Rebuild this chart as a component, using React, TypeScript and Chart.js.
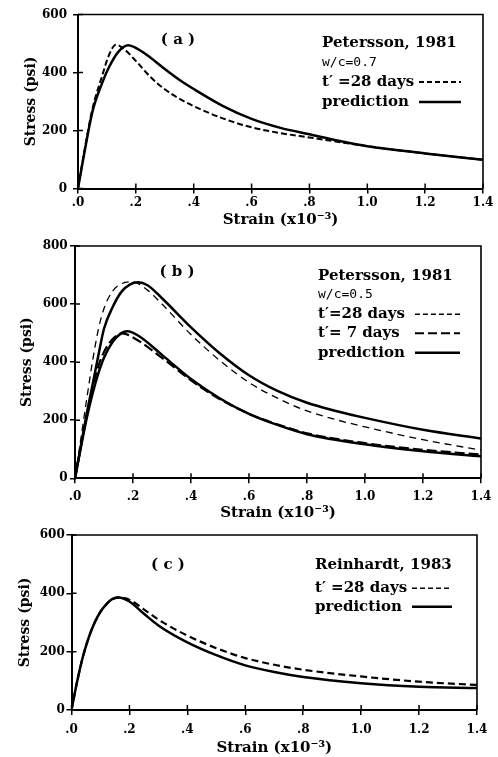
import React, { useEffect, useRef } from "react";
import { Chart, registerables } from "chart.js";

Chart.register(...registerables);

// ---------- tick labels ----------
const xTickLabels = [".0", ".2", ".4", ".6", ".8", "1.0", "1.2", "1.4"];
const xAxisTitle = "Strain (x10\u207B\u00B3)";
const yAxisTitle = "Stress (psi)";

// ---------- panel (a) Petersson 1981, w/c = 0.7 ----------
const strainA_test28 = [0, 0.02, 0.05, 0.084, 0.107, 0.131, 0.16, 0.2, 0.25, 0.3, 0.35, 0.4, 0.5, 0.6, 0.7, 0.8, 1.0, 1.2, 1.4];
const stressA_test28 = [0, 118, 275, 390, 460, 496, 480, 440, 385, 342, 310, 284, 242, 211, 191, 176, 146, 121, 99];
const strainA_pred = [0, 0.02, 0.05, 0.084, 0.107, 0.14, 0.174, 0.2, 0.25, 0.3, 0.35, 0.4, 0.5, 0.6, 0.7, 0.8, 0.9, 1.0, 1.2, 1.4];
const stressA_pred = [0, 112, 265, 365, 418, 472, 494, 485, 452, 412, 375, 343, 285, 240, 209, 187, 165, 146, 121, 99];

// ---------- panel (b) Petersson 1981, w/c = 0.5 ----------
const strainB_test28 = [0, 0.02, 0.04, 0.06, 0.08, 0.1, 0.13, 0.16, 0.197, 0.25, 0.3, 0.4, 0.5, 0.6, 0.7, 0.8, 0.9, 1.0, 1.2, 1.4];
const stressB_test28 = [0, 135, 270, 400, 510, 585, 645, 670, 677, 648, 600, 495, 405, 330, 275, 232, 202, 177, 133, 97];
const strainB_pred28 = [0, 0.02, 0.04, 0.06, 0.08, 0.1, 0.13, 0.16, 0.19, 0.217, 0.25, 0.3, 0.4, 0.5, 0.6, 0.7, 0.8, 0.9, 1.0, 1.2, 1.4];
const stressB_pred28 = [0, 110, 220, 320, 420, 515, 590, 642, 668, 675, 665, 620, 520, 430, 355, 300, 260, 232, 208, 167, 137];
const strainB_test7 = [0, 0.02, 0.04, 0.06, 0.08, 0.1, 0.13, 0.163, 0.2, 0.3, 0.4, 0.5, 0.6, 0.7, 0.8, 1.0, 1.2, 1.4];
const stressB_test7 = [0, 110, 215, 310, 385, 435, 480, 499, 485, 415, 337, 272, 222, 185, 155, 121, 98, 82];
const strainB_pred7 = [0, 0.02, 0.04, 0.06, 0.08, 0.1, 0.13, 0.16, 0.18, 0.22, 0.3, 0.4, 0.5, 0.6, 0.7, 0.8, 1.0, 1.2, 1.4];
const stressB_pred7 = [0, 105, 205, 290, 360, 415, 470, 500, 506, 490, 425, 342, 275, 222, 183, 152, 117, 93, 76];

// ---------- panel (c) Reinhardt 1983 ----------
const strainC_test28 = [0, 0.02, 0.04, 0.06, 0.08, 0.1, 0.12, 0.14, 0.163, 0.2, 0.25, 0.3, 0.4, 0.5, 0.6, 0.7, 0.8, 1.0, 1.2, 1.4];
const stressC_test28 = [0, 100, 185, 250, 300, 337, 362, 380, 386, 378, 345, 310, 255, 212, 178, 155, 138, 115, 97, 86];
const strainC_pred = [0, 0.02, 0.04, 0.06, 0.08, 0.1, 0.12, 0.14, 0.163, 0.2, 0.25, 0.3, 0.4, 0.5, 0.6, 0.7, 0.8, 1.0, 1.2, 1.4];
const stressC_pred = [0, 100, 185, 250, 300, 337, 362, 380, 386, 372, 330, 290, 232, 188, 153, 130, 113, 92, 80, 75];

// ---------- annotation texts ----------
const legendA = ["Petersson, 1981", "w/c=0.7", "t\u2032 =28 days", "prediction"];
const legendB = ["Petersson, 1981", "w/c=0.5", "t\u2032=28 days", "t\u2032= 7 days", "prediction"];
const legendC = ["Reinhardt, 1983", "t\u2032 =28 days", "prediction"];
const panelLabels = ["( a )", "( b )", "( c )"];

const SERIF = '"DejaVu Serif", "Liberation Serif", serif';
const MONO = '"DejaVu Sans Mono", monospace';

const toPts = (xs: number[], ys: number[]) => xs.map((x, i) => ({ x, y: ys[i] }));

type Sample = { dash: number[]; width: number };
type LegendRow = { text: string; mono?: boolean; sample?: Sample };

const SOLID: Sample = { dash: [], width: 2.5 };

const panels = [
  {
    top: 0, height: 240,
    chartLeft: 78, chartRight: 483, chartTop: 14.5, chartBottom: 188.5,
    yMax: 600,
    xTickPad: 2.3, yTickPad: 6, xTitlePad: 11.2, yTitlePad: 22.6,
    label: { text: panelLabels[0], x: 178, y: 40 },
    legendX: 322, legendYs: [43.5, 63, 82, 102], sampleX: [419, 461],
    legend: [
      { text: legendA[0] },
      { text: legendA[1], mono: true },
      { text: legendA[2], sample: { dash: [5, 3], width: 1.8 } },
      { text: legendA[3], sample: SOLID },
    ] as LegendRow[],
    series: [
      { data: toPts(strainA_test28, stressA_test28), dash: [6, 3], width: 2 },
      { data: toPts(strainA_pred, stressA_pred), dash: [], width: 2.5 },
    ],
  },
  {
    top: 232, height: 293,
    chartLeft: 75, chartRight: 481, chartTop: 246, chartBottom: 478.3,
    yMax: 800,
    xTickPad: 6.2, yTickPad: 2.3, xTitlePad: 3.2, yTitlePad: 18.6,
    label: { text: panelLabels[1], x: 177, y: 272 },
    legendX: 318, legendYs: [276, 295, 314.3, 333.3, 352.7], sampleX: [415, 460],
    legend: [
      { text: legendB[0] },
      { text: legendB[1], mono: true },
      { text: legendB[2], sample: { dash: [5, 3], width: 1.4 } },
      { text: legendB[3], sample: { dash: [9, 4], width: 2 } },
      { text: legendB[4], sample: SOLID },
    ] as LegendRow[],
    series: [
      { data: toPts(strainB_test28, stressB_test28), dash: [7, 5], width: 1.3 },
      { data: toPts(strainB_test7, stressB_test7), dash: [10, 4], width: 2.2 },
      { data: toPts(strainB_pred28, stressB_pred28), dash: [], width: 2.5 },
      { data: toPts(strainB_pred7, stressB_pred7), dash: [], width: 2.5 },
    ],
  },
  {
    top: 520, height: 237,
    chartLeft: 71.5, chartRight: 477, chartTop: 535, chartBottom: 710,
    yMax: 600,
    xTickPad: 7.8, yTickPad: 1.7, xTitlePad: 0.2, yTitlePad: 16.6,
    label: { text: panelLabels[2], x: 168, y: 565 },
    legendX: 315, legendYs: [565, 588.3, 606.7], sampleX: [412, 452],
    legend: [
      { text: legendC[0] },
      { text: legendC[1], sample: { dash: [5, 3], width: 1.6 } },
      { text: legendC[2], sample: SOLID },
    ] as LegendRow[],
    series: [
      { data: toPts(strainC_test28, stressC_test28), dash: [7, 4], width: 2.2 },
      { data: toPts(strainC_pred, stressC_pred), dash: [], width: 2.5 },
    ],
  },
];

type PanelCfg = (typeof panels)[number];

const framePlugin = {
  id: "frame",
  afterDraw(chart: any, _args: any, opts: any) {
    const p: PanelCfg = opts.panel;
    const { ctx, chartArea: a, scales } = chart;
    ctx.save();
    ctx.strokeStyle = "#000";
    ctx.fillStyle = "#000";
    // top and right border
    ctx.lineWidth = 1.6;
    ctx.setLineDash([]);
    ctx.beginPath();
    ctx.moveTo(a.left, a.top);
    ctx.lineTo(a.right, a.top);
    ctx.lineTo(a.right, a.bottom);
    ctx.stroke();
    // inner tick halves
    ctx.lineWidth = 1.5;
    ctx.beginPath();
    scales.x.ticks.forEach((t: any) => {
      const px = scales.x.getPixelForValue(t.value);
      ctx.moveTo(px, a.bottom);
      ctx.lineTo(px, a.bottom - 5);
    });
    scales.y.ticks.forEach((t: any) => {
      const py = scales.y.getPixelForValue(t.value);
      ctx.moveTo(a.left, py);
      ctx.lineTo(a.left + 5, py);
    });
    ctx.stroke();
    // panel label
    ctx.textBaseline = "middle";
    ctx.textAlign = "center";
    ctx.font = `bold 15px ${SERIF}`;
    ctx.fillText(p.label.text, p.label.x, p.label.y - p.top);
    // legend block
    ctx.textAlign = "left";
    p.legend.forEach((row, i) => {
      const y = p.legendYs[i] - p.top;
      ctx.font = row.mono ? `13px ${MONO}` : `bold 15px ${SERIF}`;
      ctx.fillText(row.text, p.legendX, y);
      if (row.sample) {
        ctx.beginPath();
        ctx.lineWidth = row.sample.width;
        ctx.setLineDash(row.sample.dash);
        ctx.moveTo(p.sampleX[0], y);
        ctx.lineTo(p.sampleX[1], y);
        ctx.stroke();
        ctx.setLineDash([]);
      }
    });
    ctx.restore();
  },
};

function Panel({ cfg }: { cfg: PanelCfg }) {
  const ref = useRef<HTMLCanvasElement>(null);
  useEffect(() => {
    const canvas = ref.current!;
    const W = 498;
    const yWidth = cfg.chartLeft;
    const xHeight = cfg.top + cfg.height - cfg.chartBottom;
    const chart = new Chart(canvas, {
      type: "line",
      data: {
        datasets: cfg.series.map((s) => ({
          data: s.data,
          borderColor: "#000",
          borderWidth: s.width,
          borderDash: s.dash,
          pointRadius: 0,
          fill: false,
          cubicInterpolationMode: "monotone" as const,
          borderCapStyle: "butt" as const,
          borderJoinStyle: "round" as const,
        })),
      },
      options: {
        responsive: false,
        animation: false,
        devicePixelRatio: 1,
        layout: {
          padding: { left: 0, right: W - cfg.chartRight, top: cfg.chartTop - cfg.top, bottom: 0 },
        },
        plugins: {
          legend: { display: false },
          tooltip: { enabled: false },
          frame: { panel: cfg },
        } as any,
        scales: {
          x: {
            type: "linear",
            min: 0,
            max: 1.4,
            afterFit: (scale: any) => { scale.height = xHeight; },
            border: { display: true, color: "#000", width: 2 },
            grid: { drawOnChartArea: false, drawTicks: true, tickLength: 5, color: "#000", lineWidth: 1.5 },
            ticks: {
              stepSize: 0.2,
              autoSkip: false,
              maxRotation: 0,
              padding: cfg.xTickPad,
              color: "#000",
              font: { family: SERIF, size: 12, weight: "bold" },
              callback: (v: any) => xTickLabels[Math.round(Number(v) / 0.2)] ?? "",
            },
            title: {
              display: true,
              text: xAxisTitle,
              color: "#000",
              font: { family: SERIF, size: 15, weight: "bold" },
              padding: { top: 0, bottom: cfg.xTitlePad },
            },
          },
          y: {
            type: "linear",
            min: 0,
            max: cfg.yMax,
            afterFit: (scale: any) => { scale.width = yWidth; },
            border: { display: true, color: "#000", width: 2 },
            grid: { drawOnChartArea: false, drawTicks: true, tickLength: 5, color: "#000", lineWidth: 1.5 },
            ticks: {
              stepSize: 200,
              padding: cfg.yTickPad,
              color: "#000",
              font: { family: SERIF, size: 12, weight: "bold" },
            },
            title: {
              display: true,
              text: yAxisTitle,
              color: "#000",
              font: { family: SERIF, size: 14, weight: "bold" },
              padding: { top: cfg.yTitlePad, bottom: 0 },
            },
          },
        },
      },
      plugins: [framePlugin as any],
    });
    return () => chart.destroy();
  }, [cfg]);
  return (
    <canvas
      ref={ref}
      width={498}
      height={cfg.height}
      style={{ position: "absolute", left: 0, top: cfg.top, width: 498, height: cfg.height }}
    />
  );
}

export default function App() {
  return (
    <div style={{ position: "absolute", left: 0, top: 0, width: 498, height: 757, background: "#fff" }}>
      {panels.map((p, i) => (
        <Panel key={i} cfg={p} />
      ))}
    </div>
  );
}
